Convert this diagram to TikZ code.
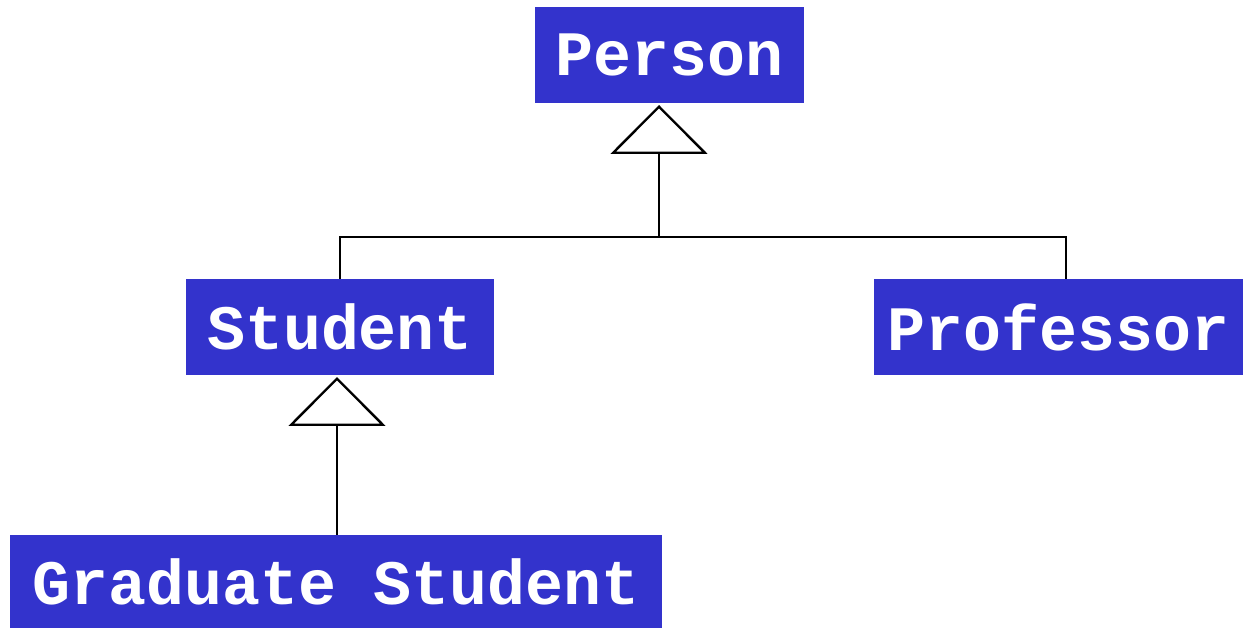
\documentclass[tikz,border=0pt]{standalone}
\usepackage{fontspec}
\usetikzlibrary{arrows.meta}
\newfontfamily\umlmono{Liberation Mono}
\definecolor{classblue}{HTML}{3333CC}

\begin{document}
\begin{tikzpicture}[x=0.02cm, y=-0.02cm,
    cls/.style={fill=classblue, text=white, inner sep=0pt, minimum height=1.92cm,
                font=\umlmono\bfseries\fontsize{36}{40}\selectfont},
    gen/.style={line width=1.35pt, -{Triangle[open, length=0.98cm, width=1.94cm]}},
    lnk/.style={line width=1.35pt},
  ]
  \useasboundingbox (0,0) rectangle (1243,628);

  % classes
  \node[cls, minimum width=5.38cm] (person) at (669.5,55) {Person};
  \node[cls, minimum width=6.16cm] (student) at (340,327) {Student};
  \node[cls, minimum width=7.38cm] (prof) at (1058.5,327) {Professor};
  \node[cls, minimum width=13.04cm, minimum height=1.86cm] (grad) at (336,581.5) {Graduate Student};

  % generalisation Person <- Student, Professor
  \coordinate (pbase) at (659,105);
  \coordinate (join) at (659,237);
  \coordinate (pdrop) at (1066,279);
  \draw[gen] (join) -- (pbase);
  \draw[lnk] (student.north) |- (join) -| (pdrop);

  % generalisation Student <- Graduate Student
  \coordinate (sbase) at (337,377);
  \draw[gen] (grad.north -| sbase) -- (sbase);
\end{tikzpicture}
\end{document}
